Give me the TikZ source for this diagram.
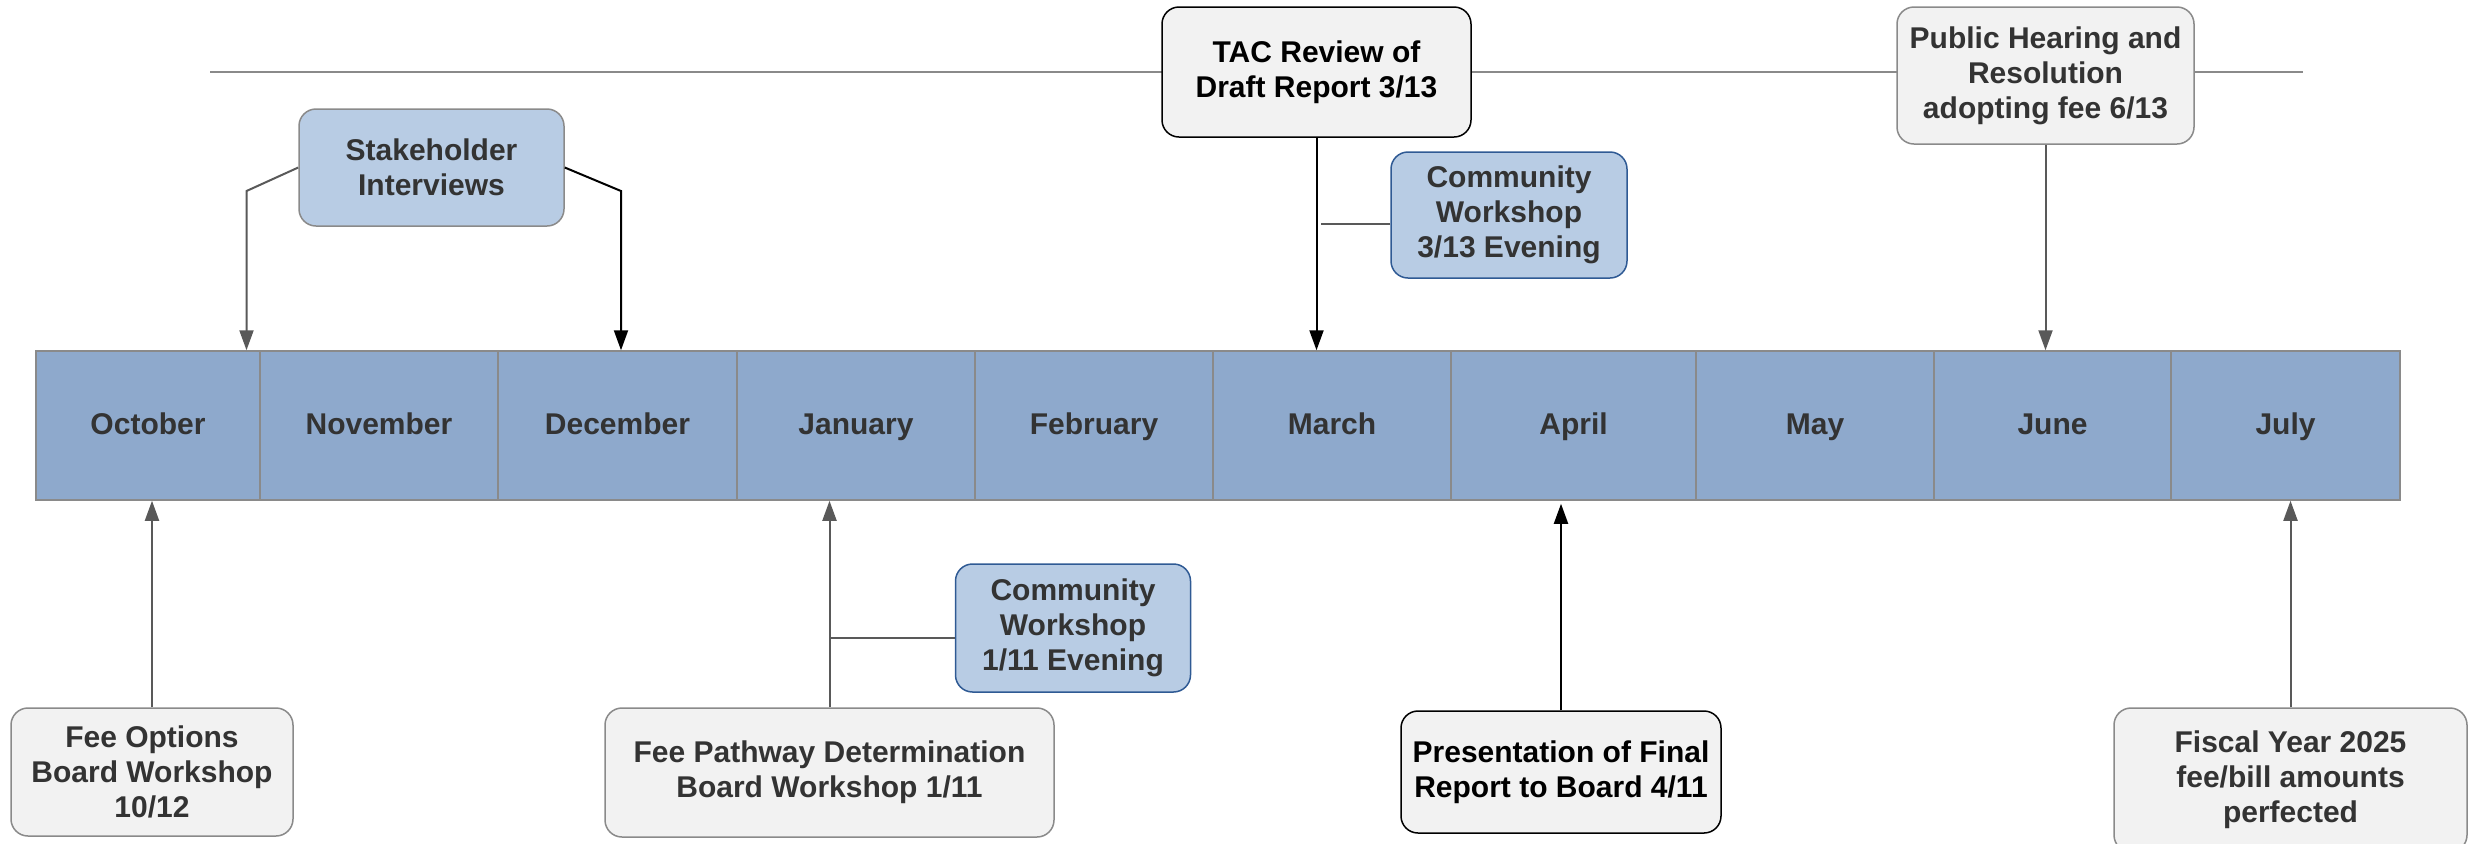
\documentclass[tikz,border=0pt]{standalone}
\usepackage{fontspec}
\setmainfont{Liberation Sans}
\usetikzlibrary{arrows.meta}
\definecolor{monthblue}{HTML}{8EA9CC}
\definecolor{paleblue}{HTML}{B8CCE4}
\definecolor{palegray}{HTML}{F2F2F2}
\definecolor{edgegray}{HTML}{8A8A8A}
\definecolor{linegray}{HTML}{595959}
\definecolor{textgray}{HTML}{333333}
\definecolor{navyedge}{HTML}{2F5A94}

\tikzset{
  month/.style={draw=edgegray, fill=monthblue, text=textgray, minimum height=74.5pt, inner sep=0pt,
    text height=11.5pt, text depth=2.5pt, line width=0.75pt},
  event/.style={draw=edgegray, fill=palegray, text=textgray, rounded corners=8.5pt, align=center, inner sep=2pt, line width=0.75pt},
  keyevent/.style={event, draw=black, text=black},
  meeting/.style={event, draw=navyedge, fill=paleblue},
  interview/.style={event, fill=paleblue},
  link/.style={draw=linegray, line width=1pt, -{Triangle[length=10pt,width=7pt]}},
  keylink/.style={link, draw=black},
}

\begin{document}
\begin{tikzpicture}[x=0.5pt, y=-0.5pt, font=\bfseries\fontsize{15}{17.5}\selectfont]
\useasboundingbox (0,0) rectangle (2474,843);
\coordinate(tl) at (210,72);
\coordinate(tr) at (2303,72);
\draw[edgegray, line width=1pt] (tl) -- (tr);

\foreach \m/\lbl/\l/\r in {oct/October/36/260, nov/November/260/498, dec/December/498/737,
  jan/January/737/975, feb/February/975/1213, mar/March/1213/1451, apr/April/1451/1696,
  may/May/1696/1934, jun/June/1934/2171, jul/July/2171/2400}
  \node(\m) [month, minimum width=(\r-\l)*0.5pt] at ({(\l+\r)/2},425.5) {\lbl};

\node(stake) [interview, minimum width=132.5pt, minimum height=58.5pt] at (431.5,167.5)
{Stakeholder\\Interviews};
\node(tac) [keyevent, minimum width=154.5pt, minimum height=65pt] at (1316.5,72)
{TAC Review of\\Draft Report 3/13};
\node(cw3) [meeting, minimum width=118pt, minimum height=63pt] at (1509,215)
{Community\\Workshop\\3/13 Evening};
\node(pub) [event, minimum width=148.5pt, minimum height=68.5pt] at (2045.5,75.5)
{Public Hearing and\\Resolution\\adopting fee 6/13};
\node(feeopt) [event, minimum width=141pt, minimum height=64pt] at (152,772)
{Fee Options\\Board Workshop\\10/12};
\node(feepath) [event, minimum width=224.5pt, minimum height=64.5pt] at (829.5,772.5)
{Fee Pathway Determination\\Board Workshop 1/11};
\node(cw1) [meeting, minimum width=117.5pt, minimum height=64pt] at (1073,628)
{Community\\Workshop\\1/11 Evening};
\node(pres) [keyevent, minimum width=160pt, minimum height=61pt] at (1561,772)
{Presentation of Final\\Report to Board 4/11};
\node(fiscal) [event, minimum width=176.5pt, minimum height=72pt] at (2290.5,780)
{Fiscal Year 2025\\fee/bill amounts\\perfected};

\coordinate(sl) at (246.5,191);
\coordinate(sr) at (621,191);
\coordinate(cw3in) at (1321,224);
\coordinate(cw1in) at (828.5,638);

\draw[link] (stake.west) -- (sl) -- (sl |- oct.north);
\draw[keylink] (stake.east) -- (sr) -- (sr |- dec.north);
\draw[keylink] (tac.south) -- (tac.south |- mar.north);
\draw[linegray, line width=1pt] (cw3in -| cw3.west) -- (cw3in);
\draw[link] (pub.south) -- (pub.south |- jun.north);
\draw[link] (feeopt.north) -- (feeopt.north |- oct.south);
\draw[link] (feepath.north) -- (feepath.north |- jan.south);
\draw[linegray, line width=1pt] (cw1in -| cw1.west) -- (cw1in);
\draw[keylink] (pres.north) -- ([yshift=-1.5pt]pres.north |- apr.south);
\draw[link] (fiscal.north) -- (fiscal.north |- jul.south);
\end{tikzpicture}
\end{document}
